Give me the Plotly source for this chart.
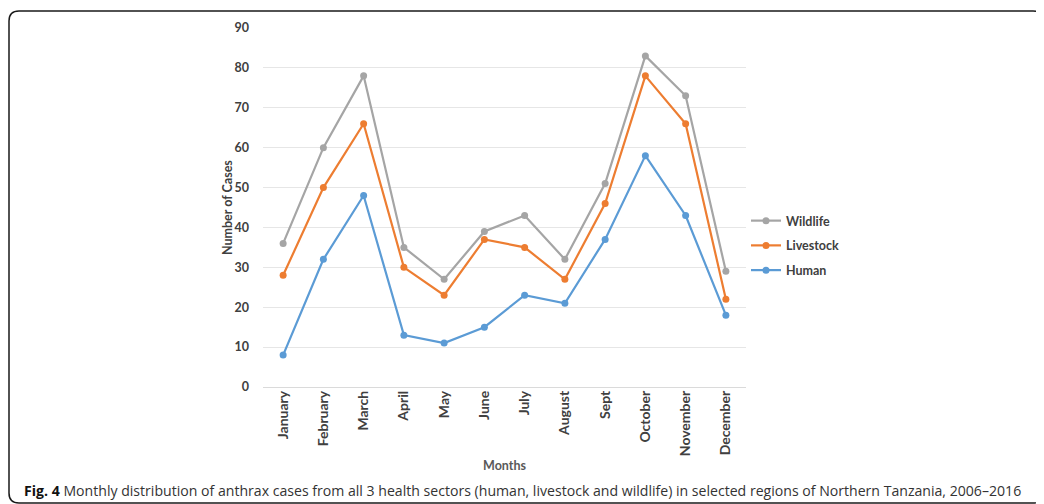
import plotly.graph_objects as go

months = ["January", "February", "March", "April", "May", "June", "July",
          "August", "Sept", "October", "November", "December"]
wildlife = [36, 60, 78, 35, 27, 39, 43, 32, 51, 83, 73, 29]
livestock = [28, 50, 66, 30, 23, 37, 35, 27, 46, 78, 66, 22]
human = [8, 32, 48, 13, 11, 15, 23, 21, 37, 58, 43, 18]
y_ticks = [0, 10, 20, 30, 40, 50, 60, 70, 80, 90]

OFF = 8  # page body margin in the browser
W, H = 1044 - OFF, 504 - OFF
L, R, T, B = 263 - OFF, 746 - OFF, 28 - OFF, 387 - OFF  # plot area (figure px)


def px(x):
    return (x - OFF - L) / (R - L)


def py(y):
    return (B - (y - OFF)) / (B - T)


fig = go.Figure()
series = [("Wildlife", wildlife, "#A5A5A5"),
          ("Livestock", livestock, "#ED7D31"),
          ("Human", human, "#5B9BD5")]
for name, vals, col in series:
    fig.add_trace(go.Scatter(
        x=months, y=vals, name=name, mode="lines+markers",
        line=dict(color=col, width=2.2),
        marker=dict(color=col, size=7),
        legendgroup=name,
    ))

chart_font = "Lato"
fig.update_layout(
    width=W, height=H,
    margin=dict(l=L, r=W - R, t=T, b=H - B, pad=0),
    paper_bgcolor="white", plot_bgcolor="white",
    font=dict(family=chart_font, color="#595959", size=12),
    showlegend=True,
    legend=dict(
        x=px(746), y=py(206), xanchor="left", yanchor="top",
        traceorder="grouped", tracegroupgap=5.5,
        font=dict(family=chart_font, size=12.5, color="#404040", weight="bold"),
        bgcolor="rgba(0,0,0,0)",
    ),
    xaxis=dict(
        type="category", range=[-0.5, 11.5],
        tickangle=-90, showgrid=False, showline=False, zeroline=False,
        ticks="", tickfont=dict(family=chart_font, size=14, color="#404040", weight="bold"),
        title=dict(text="<b>Months</b>", font=dict(family=chart_font, size=12.5, color="#595959"),
                   standoff=6),
    ),
    yaxis=dict(
        range=[0, 90], tickvals=y_ticks, showgrid=True, gridcolor="#E6E6E6",
        gridwidth=1, zeroline=True, zerolinecolor="#DADADA", zerolinewidth=1,
        showline=False, ticks="", ticklabelstandoff=13,
        tickfont=dict(family=chart_font, size=12.5, color="#404040", weight="bold"),
    ),
)

fig.add_annotation(
    x=px(227), y=py(208), xref="paper", yref="paper", xanchor="center", yanchor="middle",
    showarrow=False, textangle=-90, text="<b>Number of Cases</b>",
    font=dict(family=chart_font, size=12.5, color="#404040"),
)

# rounded frame around the figure
x0, x1, y0, y1, r = 9, 1043, 11, 503, 10
path = (f"M {px(x0 + r)},{py(y0)} L {px(x1 - r)},{py(y0)} "
        f"Q {px(x1)},{py(y0)} {px(x1)},{py(y0 + r)} "
        f"L {px(x1)},{py(y1 - r)} Q {px(x1)},{py(y1)} {px(x1 - r)},{py(y1)} "
        f"L {px(x0 + r)},{py(y1)} Q {px(x0)},{py(y1)} {px(x0)},{py(y1 - r)} "
        f"L {px(x0)},{py(y0 + r)} Q {px(x0)},{py(y0)} {px(x0 + r)},{py(y0)} Z")
fig.add_shape(type="path", path=path, xref="paper", yref="paper",
              line=dict(color="#1A1A1A", width=1.5), fillcolor="rgba(0,0,0,0)", layer="below")

fig.add_annotation(
    x=px(22), y=py(490), xref="paper", yref="paper", xanchor="left", yanchor="middle",
    showarrow=False,
    text="<span style='color:#111111'><b>Fig. 4</b></span> Monthly distribution of anthrax cases "
         "from all 3 health sectors (human, livestock and wildlife) in selected regions of "
         "Northern Tanzania, 2006–2016",
    font=dict(family="Open Sans", size=14.1, color="#333333"),
)

fig.write_html("out.html")
